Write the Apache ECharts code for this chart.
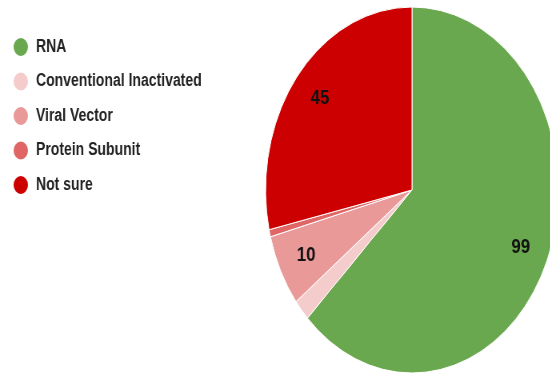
<!DOCTYPE html>
<html>
<head>
<meta charset="utf-8">
<script src="https://cdn.jsdelivr.net/npm/echarts@6/dist/echarts.min.js"></script>
<style>
  html, body { margin: 0; padding: 0; background: #fff; overflow: hidden; }
  #wrap { width: 550px; height: 373px; overflow: hidden; }
  /* the source picture is squeezed horizontally, so draw wider and scale down */
  #chart { width: 687.5px; height: 373px; transform: scaleX(0.8); transform-origin: 0 0; }
</style>
</head>
<body>
<div id="wrap"><div id="chart"></div></div>
<script>
const categories = ['RNA', 'Conventional Inactivated', 'Viral Vector', 'Protein Subunit', 'Not sure'];
const counts = [99, 3, 10, 1, 45];
const colors = ['#6aa84f', '#f4cccc', '#ea9999', '#e06666', '#cc0000'];

const chart = echarts.init(document.getElementById('chart'));

const slices = categories.map((name, i) => ({ name: name, value: counts[i] }));

chart.setOption({
    animation: false,
    color: colors,
    legend: {
        orient: 'vertical',
        left: 10,
        top: 31,
        icon: 'circle',
        itemWidth: 28,
        itemHeight: 20,
        itemGap: 12.5,
        data: categories,
        textStyle: {
            fontFamily: 'Liberation Sans, Arial, sans-serif',
            fontSize: 17.5,
            fontWeight: 'bold',
            color: '#222'
        }
    },
    series: [
        {
            type: 'pie',
            center: [515, 190],
            radius: [0, 183],
            startAngle: 90,
            clockwise: true,
            data: slices,
            label: { show: false },
            labelLine: { show: false },
            itemStyle: { borderColor: '#fff', borderWidth: 1 }
        },
        {
            // invisible ring only used to place the value labels further out
            type: 'pie',
            silent: true,
            center: [515, 190],
            radius: [106, 183],
            startAngle: 90,
            clockwise: true,
            data: slices,
            minShowLabelAngle: 10,
            itemStyle: { color: 'transparent' },
            labelLine: { show: false },
            label: {
                show: true,
                position: 'inside',
                formatter: '{c}',
                fontFamily: 'Liberation Sans, Arial, sans-serif',
                fontSize: 21,
                fontWeight: 'bold',
                color: '#111'
            }
        }
    ]
});
</script>
</body>
</html>
